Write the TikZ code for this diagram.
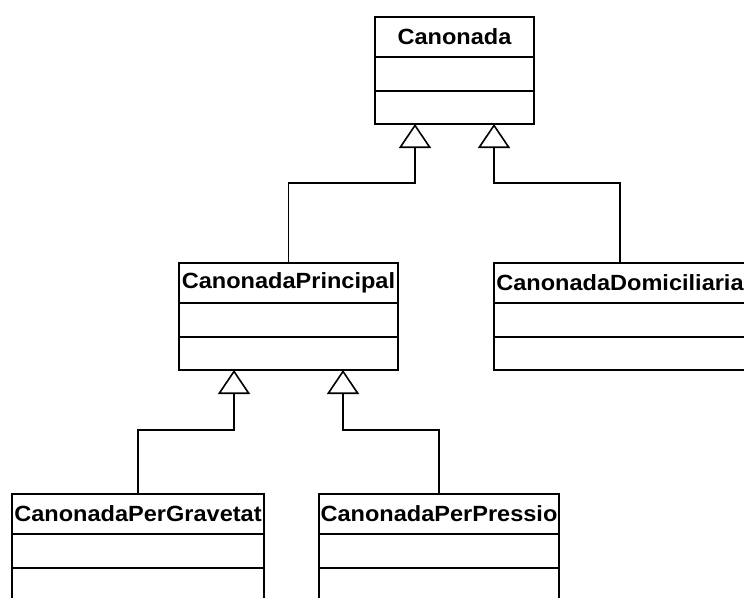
\documentclass[tikz,border=0pt]{standalone}
\usepackage{fontspec}
\newfontfamily\umlfont{Liberation Sans}[FakeStretch=1.07]
\usetikzlibrary{arrows.meta}

% one UML class: name, x, y (top), width, title
\newcommand{\umlclass}[5]{%
    \node[classname, minimum width=#4] (#1) at (#2,#3) {#5};
    \node[classpart, minimum width=#4, minimum height=34pt] (#1-attr) at (#1.south) {};
    \node[classpart, minimum width=#4, minimum height=33pt] (#1-ops) at (#1-attr.south) {};
}

\begin{document}
\begin{tikzpicture}[
    x=1pt, y=1pt,
    line width=1.6pt, % all strokes
    classname/.style={
        draw,
        anchor=north,
        minimum height=40pt,
        inner sep=0pt,
        outer sep=0pt,
        font=\umlfont\bfseries\fontsize{22}{26}\selectfont
    },
    classpart/.style={draw, anchor=north, inner sep=0pt, outer sep=0pt},
    gen/.style={-{Triangle[open, length=24pt, width=32pt]}, line join=miter} % generalisation
]
\path[use as bounding box, clip] (0,0) rectangle (744,-597);

\umlclass{can}{454.5}{-17}{159pt}{Canonada}
\umlclass{prin}{288.5}{-263}{219pt}{CanonadaPrincipal}
\umlclass{dom}{620}{-263}{252pt}{CanonadaDomiciliaria}
\umlclass{grav}{138}{-494}{252pt}{CanonadaPerGravetat}
\umlclass{pres}{439}{-494}{240pt}{CanonadaPerPressio}

% inheritance
\draw[gen] (prin.north) -- ++(0,80) -| ([xshift=-39.5pt]can-ops.south);
\draw[gen] (dom.north) -- ++(0,80) -| ([xshift=39.5pt]can-ops.south);
\draw[gen] (grav.north) -- ++(0,64) -| ([xshift=-54.5pt]prin-ops.south);
\draw[gen] (pres.north) -- ++(0,64) -| ([xshift=54.5pt]prin-ops.south);
\end{tikzpicture}
\end{document}
